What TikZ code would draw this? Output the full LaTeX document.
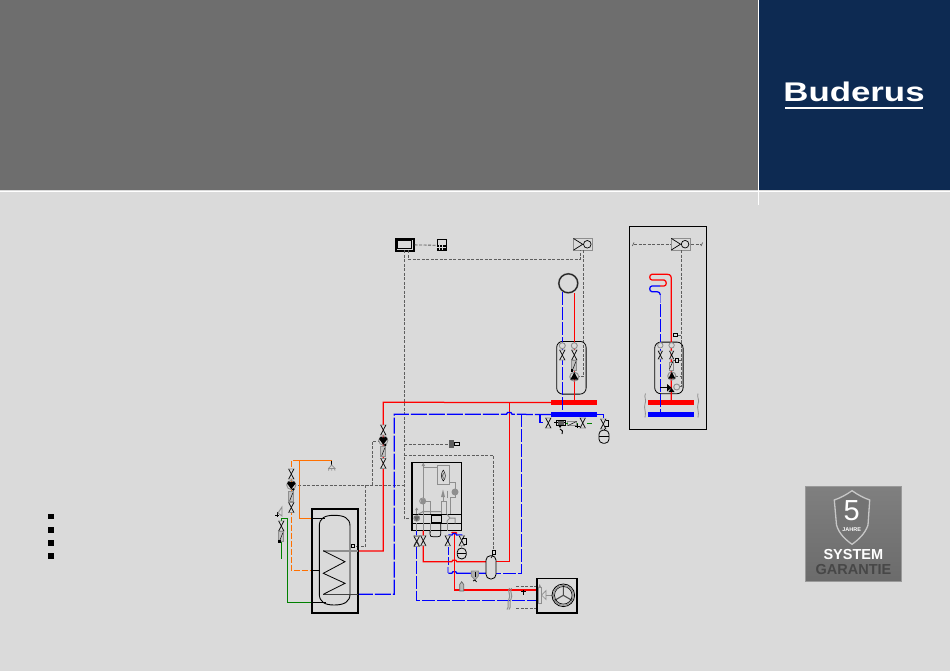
\documentclass[tikz,border=0pt]{standalone}
\usepackage{fontspec}
\setmainfont{Liberation Sans}
\usepackage{xcolor}
\usetikzlibrary{calc}
\usetikzlibrary{positioning}
\definecolor{pagegray}{HTML}{DADADA}
\definecolor{headgray}{HTML}{6E6E6E}
\definecolor{navy}{HTML}{0D2A52}
\definecolor{pipered}{HTML}{FF0000}
\definecolor{pipeblue}{HTML}{0000FF}
\definecolor{pipeorange}{HTML}{FF7000}
\definecolor{pipegreen}{HTML}{008000}
\definecolor{partgray}{HTML}{8E8E8E}
\definecolor{ctrlgray}{HTML}{5E5E5E}
\tikzset{
  redpipe/.style={draw=pipered,line width=1.25pt},
  bluepipe/.style={draw=pipeblue,line width=1.25pt,dash pattern=on 13pt off 2pt},
  blueline/.style={draw=pipeblue,line width=1.25pt},
  orangepipe/.style={draw=pipeorange,line width=1.25pt},
  orangedash/.style={draw=pipeorange,line width=1.25pt,dash pattern=on 6pt off 2pt},
  greenpipe/.style={draw=pipegreen,line width=1.25pt},
  ctrl/.style={draw=ctrlgray,line width=.85pt,dash pattern=on 3pt off 1.5pt},
  part/.style={draw=partgray,line width=1pt},
  blackline/.style={draw=black,line width=.9pt},
  box/.style={draw=black,line width=1.2pt,inner sep=0pt,anchor=north west},
  mixbox/.style={draw=partgray,line width=1pt,inner sep=0pt,minimum width=19.5pt,minimum height=12pt},
  hotbar/.style={fill=pipered,inner sep=0pt,minimum height=5pt},
  coldbar/.style={fill=pipeblue,inner sep=0pt,minimum height=5pt},
  valve/.pic={
    \fill[pagegray] (-2.6,-5) -- (2.6,5) -- (-2.6,5) -- (2.6,-5) -- cycle;
    \draw[partgray,line width=.9pt] (-2.6,-5) -- (2.6,-5) -- (-2.6,5) -- (2.6,5) -- cycle;
    \draw[black,line width=.5pt] (-2.6,-5) -- (2.6,5) (-2.6,5) -- (2.6,-5);
  },
  pump/.pic={
    \draw[partgray,line width=1pt] (0,0) circle (4.5);
    \fill[black] (-4,3) -- (4,3) -- (0,-4.5) -- cycle;
  },
  pumpdown/.pic={
    \draw[partgray,line width=.9pt] (0,0) circle (4.6);
    \fill[black] (-4.2,-1.5) .. controls (-4.2,-4) and (-1.5,-4) .. (0,-3) .. controls (1.5,-4) and (4.2,-4) .. (4.2,-1.5) -- (0,4.2) -- cycle;
    \fill[black] (2,4.5) circle (1.4);
  },
  checkrect/.pic={
    \draw[partgray,fill=pagegray!88!black,line width=.9pt] (-2.4,-5) rectangle (2.4,5);
    \draw[black,line width=.45pt] (-1.6,4) -- (1.6,-4);
  },
  eye/.pic={
    \draw[partgray,line width=.9pt] (0,0) circle (3);
  },
  gblob/.pic={
    \fill[partgray] (0,0) circle (3.4);
    \fill[partgray!70!black] (-3,-2) -- (3,-2) -- (0,3) -- cycle;
  },
  mixer/.pic={
    \draw[black,line width=.7pt] (-9.5,-5.8) -- (-.3,0) -- (-9.5,5.8);
    \draw[black,line width=.7pt] (4.3,0) circle (3.8);
  }
}
\begin{document}
\begin{tikzpicture}[x=1pt,y=-1pt]
\useasboundingbox (0,0) rectangle (950,671);
% page and header
\fill[pagegray] (0,0) rectangle (950,671);
\fill[headgray] (0,0) rectangle (757.5,190.5);
\fill[navy] (759,0) rectangle (950,190.5);
\draw[white,line width=.9pt] (0,191) -- (950,191);
\draw[white,line width=.9pt] (758.3,0) -- (758.3,205);
\node[white,inner sep=0pt] (logo) at (854,92) {\scalebox{1.29}[1]{\fontsize{27}{27}\selectfont\bfseries Buderus}};
\draw[white,line width=1.4pt] (785,108) -- (923,108);

% list marks
\foreach \ypos/\nm in {516.7/a,530/b,543/c,556/d}
  \node[fill=black,inner sep=0pt,minimum size=5.5pt] (mark\nm) at (51,\ypos) {};

% controller top row
\node[box,minimum width=18pt,minimum height=12pt] (ctrlbox) at (395.3,238.3) {};
\draw[black,line width=.9pt] (397,240) rectangle (411.7,248.7);
\node[box,line width=.9pt,minimum width=9pt,minimum height=11pt] (calc) at (436.7,239.3) {};
\fill[black] (436.7,244.5) rectangle (445.7,250.3);
\draw[pagegray,line width=.5pt] (436.7,247.4) -- (445.7,247.4) (439.7,245) -- (439.7,250) (442.7,245) -- (442.7,250);
\node[mixbox] (mixa) at (583,244.3) {};
\pic at (583,244.3) {mixer};
\draw[ctrl] (ctrlbox.east) -- (calc.west);
\coordinate (ca) at (408.3,259.3);
\draw[ctrl] (408.3,250.3) -- (ca) -- (580,259.3) -- (580,250.3);
\draw[ctrl] (583.3,250.3) -- (583.3,376.7) -- (579,376.7);

% main control trunk
\draw[ctrl] (404.3,250.3) -- (404.3,518.3) -- (411.3,518.3);
\draw[ctrl] (404.3,444.3) -- (449.3,444.3);
\draw[ctrl] (404.3,455) -- (493.3,455) -- (493.3,550.3);
\draw[ctrl] (298,485) -- (404.3,485);
\draw[ctrl] (372.3,485) -- (372.3,441) -- (379,441);
\draw[ctrl] (365,485) -- (365,546.7) -- (355,546.7);

% room sensor
\node[draw=black!65,line width=1.7pt,circle,minimum size=19pt,inner sep=0pt] (room) at (568.3,283.3) {};
\draw[black,line width=.4pt] (room) circle (9.5);

% module with pump
\node[box,line width=.8pt,rounded corners=6pt,minimum width=29.4pt,minimum height=52.7pt] (moda) at (556.3,341) {};
\node[hotbar,minimum width=46pt] (hotbara) at (574,402.5) {};
\node[coldbar,minimum width=46pt] (coldbara) at (574,414.5) {};
\draw[bluepipe] (562.3,292) -- (562.3,412);
\draw[redpipe] (574.3,293) -- (574.3,400);
\foreach \xpos in {562.3,574.3} {
  \draw[partgray,fill=pagegray,line width=.9pt] (\xpos,345.7) circle (3);
  \pic at (\xpos,355) {valve};
}
\pic at (574.3,365.5) {checkrect};
\fill[black] (571,369) rectangle (573,372);
\pic at (574.3,376.7) {pump};

% supply and return mains
\draw[redpipe] (hotbara.west) -- (383.3,402.3) -- (383.3,551) -- (358,551);
\draw[redpipe] (509.3,402.3) -- (509.3,561.7) -- (486,561.7);
\draw[bluepipe,dash pattern=on 16pt off 2pt] (coldbara.west) -- (512,414.3) -- (511,412.5) -- (507.5,412.5) -- (506.5,414.3) -- (394.3,414.3) -- (394.3,594.3) -- (358,594.3);
\draw[bluepipe] (521.5,414.3) -- (521.5,573.3) -- (496,573.3);

% hot water storage
\node[box,minimum width=46pt,minimum height=104pt] (tank) at (311.3,508.3) {};
\draw[blackline] (319.3,594) -- (319.3,526) .. controls (319.3,518) and (325,515.3) .. (334,515.3) .. controls (344,515.3) and (350,518) .. (350,526) -- (350,594) .. controls (350,602) and (344,605) .. (334,605) .. controls (325,605) and (319.3,602) .. (319.3,594);
\draw[partgray,line width=1.6pt] (323.3,550.7) -- (358,550.7);
\draw[ctrlgray!70!black,line width=1.1pt] (323.3,594.3) -- (358,594.3);
\draw[black,line width=.8pt] (323.3,550.7) -- (345,561.7) -- (323.3,573.3) -- (345,583.3) -- (323.3,594.3);
\node[draw=black,line width=.9pt,inner sep=0pt,minimum size=3.4pt] (tanksensor) at (353,545.7) {};

% storage pipes
\coordinate (oa) at (299.3,460.7);
\draw[orangepipe] (331.7,460.7) -- (oa) -- (299.3,518.3) -- (311.3,518.3);
\draw[black,line width=.9pt] (311.3,518.3) -- (325,518.3);
\draw[orangedash] (oa) -- (291.3,460.7) -- (291.3,570.3) -- (311.3,570.3);
\draw[black,line width=.9pt] (311.3,570.3) -- (320,570.3);
\draw[greenpipe] (281.5,518.3) -- (287.3,518.3) -- (287.3,602.3) -- (311.3,602.3);
\draw[greenpipe] (281.5,518.3) -- (281.5,559.3);
\draw[black,line width=.9pt] (311.3,602.3) -- (326,602.3);
\draw[black,line width=.9pt] (331.7,460.7) -- (331.7,465);
\draw[partgray,line width=.8pt] (328,468.5) -- (335.5,468.5) (328.5,468.5) -- (331.7,465) -- (335,468.5) (329,468.5) -- (328.5,470.5) (331.7,468.5) -- (331.7,470.5) (334.5,468.5) -- (335,470.5);

% cold / circulation groups
\pic at (383.3,430) {valve};
\pic at (383.3,440.5) {pumpdown};
\pic at (383.3,451.7) {checkrect};
\pic at (383.3,463.3) {valve};
\pic at (291.3,474) {valve};
\pic at (291.3,485) {pumpdown};
\pic at (291.3,496.7) {checkrect};
\pic at (291.3,507.5) {valve};
\pic at (281.3,526) {valve};
\pic at (281.3,536.7) {checkrect};
\fill[black] (278,540) rectangle (280.5,542.5);
\draw[black,line width=.8pt] (275,515) -- (279,515) (277,512) -- (277,517);
\draw[partgray,line width=.9pt] (278,513) -- (282,507) -- (282,516) -- cycle;

% boiler
\node[box,minimum width=49.4pt,minimum height=68.3pt] (boiler) at (411.3,461.7) {};
\draw[black,line width=1.1pt] (411.3,514.3) -- (460.7,514.3) (411.3,523.3) -- (460.7,523.3);
\node[box,line width=1pt,minimum width=9.7pt,minimum height=6.3pt] (display) at (431,515.3) {};
\node[draw=partgray,line width=1pt,inner sep=0pt,anchor=north west,minimum width=12pt,minimum height=19pt] (flame) at (437.3,465.3) {};
\draw[black,line width=.5pt] (443.3,470) .. controls (440.5,474) and (441,478) .. (443.3,481) .. controls (446,478) and (446,474) .. (443.3,470);
\draw[black,line width=.5pt] (443.3,473) .. controls (442.5,475) and (442.5,477) .. (443.3,478.5);
\draw[part] (423.3,464) -- (423.3,498) (423.3,467.3) -- (437.3,467.3);
\fill[partgray] (421.5,466) -- (425.1,466) -- (423.3,462.5) -- cycle;
\pic at (422.7,501) {eye};
\fill[partgray] (420.5,499) rectangle (425,503.5);
\draw[part] (423.3,504) -- (423.3,514.3) (425.5,501) -- (430,501) -- (430,514.3);
\draw[part] (449.3,482) -- (455,482) -- (455,490);
\fill[partgray] (455,492) circle (3.5);
\fill[partgray] (441,497) -- (445,497) -- (443,489.5) -- cycle;
\draw[part] (447.5,490.5) -- (447.5,498);
\draw[part] (441.7,501) -- (446.7,501) -- (446.7,514.3) (441.7,501) -- (441.7,514.3) (443,497) -- (443,501) (450,497) -- (455,497) -- (455,495) (450,497) -- (450,514.3);
\draw[part] (416.7,510) -- (416.7,514.3);
\fill[partgray] (415,510) -- (418.4,510) -- (416.7,507.5) -- cycle;
\pic at (416.7,518.3) {gblob};
\draw[part] (418,514.3) -- (423.3,511.5) -- (441.7,511.5);
\draw[part] (447,514.3) -- (450,518) -- (447,521) -- (447,523.3) (450,518) -- (455,518) -- (455,523.3);
\draw[part] (416.7,523.3) -- (416.7,531) (423.3,514.3) -- (423.3,531) (430,523.3) -- (430,533);
\draw[blackline,line width=.7pt] (430,531) -- (430,534) .. controls (430,536.5) and (431,536.7) .. (433,536.7) -- (438,536.7) .. controls (440,536.7) and (440.7,536) .. (440.7,534) -- (440.7,523.3);
\draw[part] (447.7,523.3) -- (447.7,531);

% pipes below boiler
\draw[bluepipe] (416.7,530.5) -- (416.7,600.3) -- (536.3,600.3);
\draw[bluepipe,dash pattern=on 8pt off 2pt] (448.3,537) -- (448.3,566);
\draw[draw=pipeblue!40!pagegray,line width=1.6pt] (447.7,566.7) -- (447.7,573.3);
\draw[blueline] (448.3,573.3) -- (451.8,573.3) -- (452.8,571.8) -- (455.8,571.8) -- (456.8,573.3) -- (486,573.3);
\draw[redpipe] (423.3,530.5) -- (423.3,561.7) -- (451.8,561.7) -- (452.8,560.2) -- (455.8,560.2) -- (456.8,561.7) -- (486,561.7);
\draw[redpipe] (454.3,534) -- (454.3,590) -- (536.3,590);
\draw[redpipe] (451.5,533) -- (452.5,532.5) -- (456,532.5) -- (457,533.5);
\draw[blueline] (448.3,535) -- (452,535) -- (453,533.5) -- (455.5,533.5) -- (456.5,535) -- (461.7,535) -- (461.7,538);
\foreach \xpos in {416.7,423.3,447.7,461.7}
  \pic at (\xpos,540.7) {valve};
\pic at (416.7,541.5) {valve};
\draw[black,line width=.8pt] (462,538) -- (466.3,538) -- (466.3,544.5) -- (463.5,544.5);
\node[draw=black,line width=.8pt,rounded corners=4pt,inner sep=0pt,minimum width=9pt,minimum height=10.7pt] (expa) at (461.7,553.5) {};
\draw[black,line width=1.1pt] (457.2,553.5) -- (466.2,553.5);
\draw[partgray,line width=.8pt] (461.7,546) -- (461.7,548);

% buffer cylinder
\node[draw=black,fill=pagegray,line width=.8pt,rounded corners=4.5pt,inner sep=0pt,minimum width=10pt,minimum height=23.3pt] (cyl) at (491,567.3) {};
\node[draw=black,fill=pagegray,line width=.9pt,inner sep=0pt,minimum width=3.4pt,minimum height=4pt] (cylsensor) at (494,552.3) {};
\draw[black,line width=.7pt] (493.3,554.3) -- (491,558);
\draw[partgray,fill=pagegray!80!black,line width=.9pt] (471.3,571) -- (478.3,571) -- (478.3,576) -- (475,580) -- (471.3,576) -- cycle;
\draw[black,line width=.7pt] (475,572) -- (475,577);
\draw[black,line width=.7pt] (473,581) -- (475,580) -- (476.5,582);
\draw[black!60,fill=pagegray!85!black,line width=.7pt] (459.7,591) -- (459.7,584.5) -- (461.7,581.7) -- (463.7,584.5) -- (463.7,591) -- cycle;

% outdoor unit
\node[box,minimum width=40pt,minimum height=34.3pt] (odu) at (536.3,578) {};
\draw[ctrl] (516,586) -- (536.3,586) (516,608.3) -- (536.3,608.3);
\draw[partgray,line width=1pt] (509.5,588) .. controls (507,592) and (511.5,595) .. (509,599) .. controls (506.5,603) and (510,606) .. (507,609.5);
\draw[partgray,line width=1pt] (511.5,588) .. controls (509,592) and (513.5,595) .. (511,599) .. controls (508.5,603) and (512,606) .. (509,609.5);
\draw[black,line width=.9pt] (523.3,589.5) -- (523.3,594.5) (521,591.5) -- (525.6,591.5);
\draw[partgray,fill=pagegray,line width=.9pt] (538,587) rectangle (541.5,603.5);
\draw[partgray,line width=.7pt] (541.5,595) -- (546,590.5) -- (546,599.5) -- cycle;
\draw[part] (546,595.3) -- (552,595.3);
\fill[partgray] (538.5,587) -- (541,587) -- (539.7,584) -- cycle;
\draw[black,line width=.8pt] (563.3,595.3) circle (11.3);
\draw[partgray,line width=.9pt] (563.3,595.3) circle (10);
\draw[black!70,line width=1.1pt] (563.3,595.3) -- (563.3,585.3) (563.3,595.3) -- (554.7,600.3) (563.3,595.3) -- (571.9,600.3);
\draw[black,line width=.6pt] (563.3,595.3) circle (8.8);

% valve sensor block
\node[fill=ctrlgray,inner sep=0pt,minimum width=4.7pt,minimum height=8pt] (vsens) at (451.6,444) {};
\node[draw=black,fill=pagegray,line width=.8pt,inner sep=0pt,minimum width=4.7pt,minimum height=2.8pt,right=0pt of vsens] (vsensb) {};

% safety group
\draw[blueline] (551,414.3) -- (540,414.3) -- (540,422.3) -- (543,422.3);
\begin{scope}[shift={(548.3,423)},rotate=90]
\pic at (0,0) {valve};
\end{scope}
\draw[black,line width=.8pt] (554,422.3) -- (566,422.3);
\draw[black,line width=.9pt] (556,420) rectangle (565,425);
\fill[ctrlgray] (557.5,421) rectangle (563.5,424.5);
\fill[black] (558,425) -- (562,425) -- (560,428) -- cycle;
\draw[black,line width=.9pt] (560,429) -- (562.5,431) -- (562,434);
\draw[partgray,fill=pagegray,line width=.9pt] (567.7,421) rectangle (576.7,425.7);
\draw[black,line width=.5pt] (568,425.5) -- (576.5,421.5);
\draw[black,line width=.8pt] (577.3,424) -- (577.3,428) (575.3,426) -- (579.5,426);
\draw[pipegreen,line width=1pt] (565.5,423) -- (568,423) (576.7,423) -- (578,423) (587,423) -- (592,423);
\begin{scope}[shift={(582.7,423)},rotate=90]
\pic at (0,0) {valve};
\end{scope}
\draw[blueline] (597,414.3) -- (603.3,414.3) -- (603.3,418.3);
\pic at (603.3,424) {valve};
\draw[black,line width=.9pt] (606,420.5) -- (608,420.5) -- (608,426.5) -- (605,426.5);
\node[draw=black,line width=.8pt,rounded corners=4pt,inner sep=0pt,minimum width=10pt,minimum height=13pt] (expb) at (604,436.7) {};
\draw[black,line width=1.2pt] (599,436.7) -- (609,436.7);
\draw[black,line width=.7pt] (604,429) -- (604,430);

% heating circuit inset
\node[box,line width=.9pt,minimum width=76.4pt,minimum height=202.7pt] (inset) at (629.3,226.3) {};
\node[mixbox] (mixb) at (680.8,244.2) {};
\pic at (680.8,244.2) {mixer};
\draw[ctrl] (634,244.2) -- (mixb.west);
\draw[ctrl] (mixb.east) -- (701,244.2);
\draw[ctrlgray,line width=.7pt] (632.3,246) -- (634,242.5) (701,246) -- (702.7,242.5);
\draw[ctrl] (681,250) -- (681,386.5) -- (679,386.5);
\draw[ctrl] (678,335) -- (681,335);
\draw[ctrl] (678.5,360.3) -- (681,360.3);
\draw[ctrl] (675,376) -- (681,376);
\node[box,line width=.8pt,rounded corners=6pt,minimum width=28.4pt,minimum height=51.6pt] (modb) at (654.3,341.7) {};
\node[hotbar,minimum width=45.7pt] (hotbarb) at (671.2,402.5) {};
\node[coldbar,minimum width=45.7pt] (coldbarb) at (671.2,414.3) {};
\draw[redpipe] (671.3,400) -- (671.3,280) .. controls (671.3,276.5) and (671,274.3) .. (667,274.3) -- (652,274.3) .. controls (649,274.3) and (649,280) .. (652,280) -- (664,280) .. controls (667,280.5) and (667,286) .. (664,286) -- (660,286);
\draw[blueline] (660,286) -- (652,286) .. controls (649,286) and (649,291.7) .. (652,291.7) -- (657,291.7) .. controls (659,291.7) and (660.3,293) .. (660.3,295);
\draw[draw=pipeblue!45!pagegray,line width=1.5pt] (660.3,295) -- (660.3,303);
\draw[bluepipe] (660.3,304) -- (660.3,412);
\foreach \xpos in {660.3,671.6} {
  \draw[partgray,fill=pagegray,line width=.8pt] (\xpos,345.3) circle (2.7);
  \pic[scale=.8] at (\xpos,355) {valve};
}
\node[draw=black,fill=pagegray,line width=.9pt,inner sep=0pt,minimum size=3.6pt] (sensb) at (675.3,335) {};
\node[draw=black,fill=pagegray,line width=.9pt,inner sep=0pt,minimum size=3.4pt] (sensc) at (676.7,360.3) {};
\draw[partgray,fill=pagegray,line width=.8pt] (669,362) -- (673,362) -- (673,370) -- (669,370) -- cycle;
\draw[black,line width=.5pt] (669.5,369) -- (673,361) -- (675,360.3);
\pic[scale=.9] at (671.8,376) {pump};
\draw[black,line width=.8pt] (660.3,387.7) -- (668,387.7);
\fill[black] (667,384) -- (671.5,387.7) -- (667,391.5) -- cycle;
\fill[black] (668.5,392) -- (674.5,392) -- (671.5,388) -- cycle;
\draw[partgray,line width=.9pt] (676.7,387) circle (3);
\draw[partgray,line width=.8pt] (645.5,393.5) .. controls (643.5,397) and (647,400) .. (645,404) .. controls (643.5,408) and (646.5,412) .. (645,417.5);
\draw[partgray,line width=.8pt] (698,393.5) .. controls (696.5,397) and (700,400) .. (698,404) .. controls (696.5,408) and (699.5,412) .. (698,417.5);

% guarantee badge
\shade[top color=black!50,bottom color=black!58] (805.3,486) rectangle (901,581.7);
\draw[black!40,line width=.5pt] (805.3,486) rectangle (901,581.7);
\draw[black!22,line width=1.3pt,fill=black!55] (852,490.7) .. controls (858,495) and (864,498) .. (869.7,500) -- (868,525) .. controls (865,534) and (858,540) .. (852,544.3) .. controls (846,540) and (839,534) .. (836.5,525) -- (834.3,500) .. controls (840,498) and (846,495) .. (852,490.7) -- cycle;
\node[white,inner sep=0pt] (years) at (851.7,511) {\fontsize{29}{29}\selectfont 5};
\node[white,inner sep=0pt] (jahre) at (851.7,529.5) {\fontsize{5.5}{6}\selectfont\bfseries JAHRE};
\node[white,inner sep=0pt] (system) at (853.3,555) {\fontsize{14.5}{15}\selectfont\bfseries SYSTEM};
\node[black!72,inner sep=0pt] (garantie) at (853.5,569.5) {\fontsize{14.5}{15}\selectfont\bfseries GARANTIE};
\end{tikzpicture}
\end{document}
